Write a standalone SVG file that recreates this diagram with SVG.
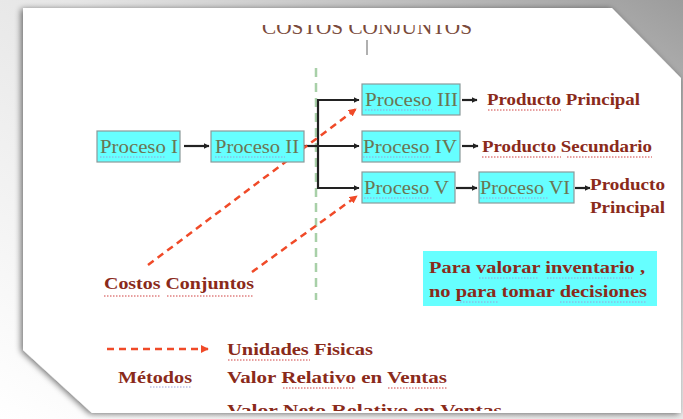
<svg xmlns="http://www.w3.org/2000/svg" width="683" height="419" viewBox="0 0 683 419">
<defs>
<linearGradient id="bg" x1="0" y1="1" x2="1" y2="0">
<stop offset="0" stop-color="#ffffff"/>
<stop offset="0.55" stop-color="#e6e6e6"/>
<stop offset="1" stop-color="#9c9c9c"/>
</linearGradient>
<filter id="sh" x="-5%" y="-5%" width="110%" height="110%">
<feGaussianBlur in="SourceAlpha" stdDeviation="3"/>
<feOffset dx="-2" dy="1" result="b"/>
<feComponentTransfer><feFuncA type="linear" slope="0.55"/></feComponentTransfer>
<feMerge><feMergeNode/><feMergeNode in="SourceGraphic"/></feMerge>
</filter>
<marker id="ab" viewBox="0 0 10 10" refX="9" refY="5" markerWidth="6" markerHeight="6" orient="auto" markerUnits="userSpaceOnUse">
<path d="M0,0 L10,5 L0,10 z" fill="#222"/>
</marker>
<marker id="ar" viewBox="0 0 10 10" refX="9" refY="5" markerWidth="8" markerHeight="8" orient="auto" markerUnits="userSpaceOnUse">
<path d="M0,0 L10,5 L0,10 z" fill="#f04a28"/>
</marker>
<clipPath id="top"><rect x="0" y="25" width="683" height="30"/></clipPath>
<clipPath id="page"><polygon points="23,8 612,8 681,78 681,411 92,411 23,350"/></clipPath>
<style>
.box{fill:#66ffff;stroke:#8a9a9a;stroke-width:1.2}
.pt{font-family:"Liberation Serif",serif;font-size:19px;fill:#6b7553}
.bt{font-family:"Liberation Serif",serif;font-size:17px;font-weight:bold;fill:#8a2a1a}
.con{fill:none;stroke:#222;stroke-width:2.2}
.red{fill:none;stroke:#f04a28;stroke-width:2.5;stroke-dasharray:7,5}
.wav{fill:none;stroke:#d04040;stroke-width:1;stroke-dasharray:1.5,1.5}
.wavb{fill:none;stroke:#9aa0d8;stroke-width:1;stroke-dasharray:1.5,1.5}
</style>
</defs>
<rect width="683" height="419" fill="url(#bg)"/>
<polygon points="23,8 612,8 681,78 681,413 92,413 23,350" fill="#ffffff" filter="url(#sh)"/>

<g id="title" clip-path="url(#top)">
<text x="262" y="34" textLength="210" lengthAdjust="spacingAndGlyphs" font-family="Liberation Serif, serif" font-size="20" fill="#7a4a3a">COSTOS CONJUNTOS</text>
</g>
<line x1="367" y1="40" x2="367" y2="55" stroke="#b0b0b0" stroke-width="2"/>
<line id="divider" x1="316" y1="68" x2="316" y2="300" stroke="#a8d0a8" stroke-width="2.5" stroke-dasharray="9,6"/>

<g id="connectors">
<line class="con" x1="184" y1="146" x2="209" y2="146" marker-end="url(#ab)"/>
<polyline class="con" points="304,146 318,146"/>
<polyline class="con" points="355,100 318,100 318,188 359,188" marker-end="url(#ab)"/>
<line class="con" x1="318" y1="100" x2="359" y2="100" marker-end="url(#ab)"/>
<line class="con" x1="318" y1="146" x2="359" y2="146" marker-end="url(#ab)"/>
<line class="con" x1="462" y1="100" x2="477" y2="100" marker-end="url(#ab)"/>
<line class="con" x1="462" y1="146" x2="478" y2="146" marker-end="url(#ab)"/>
<line class="con" x1="456" y1="188" x2="477" y2="188" marker-end="url(#ab)"/>
<line class="con" x1="575" y1="188" x2="590" y2="188" marker-end="url(#ab)"/>
<line class="red" x1="148" y1="265" x2="356" y2="109" marker-end="url(#ar)"/>
<line class="red" x1="252" y1="272" x2="357" y2="196" marker-end="url(#ar)"/>
<line class="red" x1="107" y1="349" x2="208" y2="349" marker-end="url(#ar)"/>
</g>

<g id="p1"><rect class="box" x="97" y="131" width="83" height="31"/><text class="pt" x="100" y="153" textLength="78" lengthAdjust="spacingAndGlyphs">Proceso I</text><line class="wavb" x1="100" y1="157" x2="165" y2="157"/></g>
<g id="p2"><rect class="box" x="211" y="131" width="93" height="31"/><text class="pt" x="215" y="153" textLength="84" lengthAdjust="spacingAndGlyphs">Proceso II</text><line class="wavb" x1="215" y1="157" x2="285" y2="157"/></g>
<g id="p3"><rect class="box" x="362" y="84" width="98" height="31"/><text class="pt" x="365" y="106" textLength="93" lengthAdjust="spacingAndGlyphs">Proceso III</text><line class="wavb" x1="365" y1="110" x2="432" y2="110"/></g>
<g id="p4"><rect class="box" x="362" y="131" width="98" height="31"/><text class="pt" x="363" y="153" textLength="94" lengthAdjust="spacingAndGlyphs">Proceso IV</text><line class="wavb" x1="363" y1="157" x2="432" y2="157"/></g>
<g id="p5"><rect class="box" x="362" y="172" width="93" height="31"/><text class="pt" x="364" y="194" textLength="85" lengthAdjust="spacingAndGlyphs">Proceso V</text><line class="wavb" x1="364" y1="198" x2="432" y2="198"/></g>
<g id="p6"><rect class="box" x="479" y="172" width="95" height="31"/><text class="pt" x="480" y="194" textLength="90" lengthAdjust="spacingAndGlyphs">Proceso VI</text><line class="wavb" x1="480" y1="198" x2="548" y2="198"/></g>

<g id="out3"><text class="bt" x="487" y="105" textLength="153" lengthAdjust="spacingAndGlyphs">Producto Principal</text><line class="wav" x1="488" y1="110" x2="561" y2="110"/></g>
<g id="out4"><text class="bt" x="482" y="152" textLength="170" lengthAdjust="spacingAndGlyphs">Producto Secundario</text><line class="wav" x1="482" y1="157" x2="561" y2="157"/><line class="wav" x1="567" y1="157" x2="652" y2="157"/></g>
<g id="out6"><text class="bt" x="590" y="190" textLength="75" lengthAdjust="spacingAndGlyphs">Producto</text><text class="bt" x="590" y="213" textLength="75" lengthAdjust="spacingAndGlyphs">Principal</text></g>

<g id="costos"><text class="bt" x="104" y="289" textLength="150" lengthAdjust="spacingAndGlyphs">Costos Conjuntos</text><line class="wav" x1="104" y1="296" x2="160" y2="296"/><line class="wav" x1="167" y1="296" x2="254" y2="296"/></g>

<g id="nota"><rect x="423" y="251" width="234" height="55" fill="#66ffff"/>
<text class="bt" x="429" y="273" textLength="216" lengthAdjust="spacingAndGlyphs">Para valorar inventario ,</text>
<text class="bt" x="429" y="297" textLength="218" lengthAdjust="spacingAndGlyphs">no para tomar decisiones</text>
<line class="wavb" x1="479" y1="278" x2="538" y2="278"/><line class="wavb" x1="547" y1="278" x2="632" y2="278"/>
<line class="wavb" x1="460" y1="302" x2="498" y2="302"/><line class="wavb" x1="560" y1="302" x2="647" y2="302"/>
</g>

<g id="legend" clip-path="url(#page)">
<text class="bt" x="227" y="355" textLength="146" lengthAdjust="spacingAndGlyphs">Unidades Fisicas</text>
<line class="wav" x1="228" y1="360" x2="310" y2="360"/>
<text class="bt" x="118" y="383" fill="#8a3a2a" textLength="74" lengthAdjust="spacingAndGlyphs">Métodos</text>
<line class="wavb" x1="150" y1="387" x2="192" y2="387"/>
<text class="bt" x="227" y="383" textLength="220" lengthAdjust="spacingAndGlyphs">Valor Relativo en Ventas</text>
<line class="wav" x1="283" y1="388" x2="355" y2="388"/><line class="wav" x1="388" y1="388" x2="447" y2="388"/>
<text class="bt" x="227" y="416" textLength="275" lengthAdjust="spacingAndGlyphs">Valor Neto Relativo  en Ventas</text>
</g>
</svg>
